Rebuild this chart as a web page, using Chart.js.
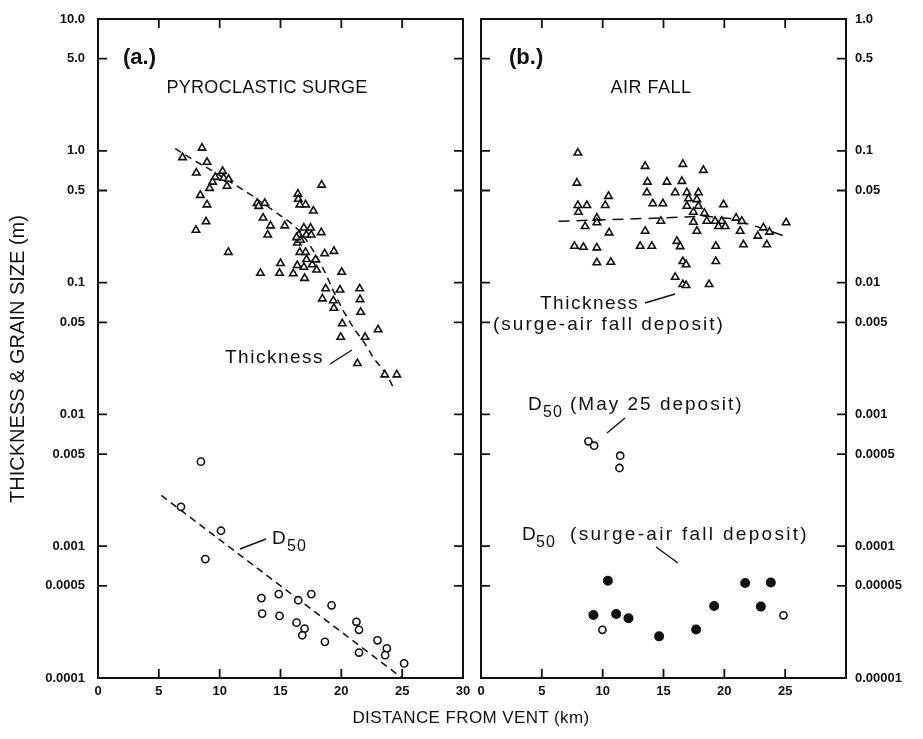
<!DOCTYPE html>
<html>
<head>
<meta charset="utf-8">
<script src="https://cdn.jsdelivr.net/npm/chart.js@4.4.1/dist/chart.umd.min.js"></script>
<style>
  html, body { margin: 0; padding: 0; background: #fff; }
  #wrap { position: relative; width: 923px; height: 739px; font-family: 'Liberation Sans', Arial, sans-serif; color: #111; }
  #leftChart { position: absolute; left: 0; top: 0; }
  #rightChart { position: absolute; left: 472px; top: 0; }
  #xTitle { position: absolute; left: 0; width: 942px; top: 708px; text-align: center; font-size: 17px; letter-spacing: 0.4px; }
</style>
</head>
<body>
<div id="wrap">
  <canvas id="leftChart" width="472" height="739" style="width:472px;height:739px"></canvas>
  <canvas id="rightChart" width="451" height="739" style="width:451px;height:739px"></canvas>
  <div id="xTitle">DISTANCE FROM VENT (km)</div>
</div>
<script>
// ---- (a.) pyroclastic surge ----
const surgeThickKm = [8.55, 6.95, 8.96, 8.08, 10.24, 9.64, 10.33, 10.74, 9.42, 10.6, 9.17, 8.41, 8.96, 8.88, 8.05, 10.71,
  18.38, 16.43, 16.46, 16.59, 17.06, 17.7, 13.08, 13.21, 13.71, 13.57, 14.18, 13.95, 15.35, 16.92, 17.47, 16.51, 17.12,
  17.53, 18.35, 16.38, 16.65, 16.32, 16.59, 17.06, 17.14, 18.63, 19.39, 15.0, 16.38, 16.92, 17.61, 17.88, 17.97, 13.35,
  14.92, 16.05, 16.98, 20.03, 18.71, 19.89, 21.51, 18.44, 19.34, 19.39, 21.54, 21.59, 20.08, 19.95, 21.95, 23.02, 21.32,
  23.57, 24.56];
const surgeThickM = [1.05, 0.89, 0.82, 0.68, 0.70, 0.63, 0.62, 0.61, 0.58, 0.54, 0.52, 0.46, 0.39, 0.29, 0.25, 0.17,
  0.55, 0.47, 0.43, 0.39, 0.39, 0.35, 0.40, 0.38, 0.40, 0.31, 0.27, 0.23, 0.27, 0.26, 0.26, 0.23, 0.23,
  0.23, 0.24, 0.20, 0.21, 0.22, 0.17, 0.17, 0.15, 0.166, 0.173, 0.14, 0.135, 0.131, 0.137, 0.149, 0.125, 0.118,
  0.118, 0.117, 0.108, 0.120, 0.090, 0.088, 0.090, 0.0755, 0.073, 0.064, 0.0745, 0.0597, 0.0488, 0.0386, 0.0386, 0.044, 0.0244,
  0.020, 0.020];
const surgeD50Km = [8.46, 6.82, 10.11, 8.82, 13.43, 14.86, 16.46, 17.53, 19.2, 13.49, 14.92, 16.32, 16.98, 16.79, 18.65,
  21.24, 21.45, 21.45, 22.97, 23.74, 23.6, 25.16];
const surgeD50M = [0.00438, 0.00199, 0.00131, 0.000798, 0.000404, 0.000433, 0.000389, 0.000433, 0.000356, 0.000308,
  0.000296, 0.000263, 0.000237, 0.000211, 0.000188, 0.000267, 0.000232, 0.000156, 0.000193, 0.000168, 0.000149, 0.000129];
const surgeThickFitKm = [6.35, 7.85, 9.23, 11.43, 12.53, 14.59, 15.82, 16.65, 17.33, 18.02, 18.71, 19.39, 20.22, 21.04, 21.86, 22.69, 23.79, 24.23];
const surgeThickFitM = [1.04, 0.85, 0.72, 0.54, 0.466, 0.343, 0.285, 0.242, 0.198, 0.156, 0.117, 0.0847, 0.0597, 0.0447, 0.0353, 0.0264, 0.0197, 0.0163];
const surgeD50FitKm = [5.2, 25.0];
const surgeD50FitM = [0.00243, 0.0001];

// ---- (b.) air fall (right axis units) ----
const airThickKm = [7.96, 7.88, 7.96, 8.70, 8.01, 10.48, 10.21, 9.52, 9.52, 8.56, 10.53, 7.68, 8.42, 9.52, 9.52, 10.67,
  13.49, 13.68, 15.28, 13.63, 14.12, 14.95, 14.78, 13.49, 13.08, 14.04, 16.59, 18.28, 16.51, 15.96, 16.92, 17.87, 17.05,
  17.74, 16.92, 17.87, 17.46, 19.93, 18.36, 17.46, 18.56, 19.24, 19.79, 19.52, 20.07, 17.74, 20.97, 21.44, 21.30, 23.21,
  23.71, 22.75, 25.08, 16.10, 16.37, 19.30, 21.57, 23.49, 16.59, 16.86, 19.30, 15.96, 16.59, 16.86, 18.75];
const airThickM = [0.0964, 0.057, 0.0386, 0.0386, 0.0343, 0.0452, 0.0386, 0.0309, 0.0285, 0.0267, 0.0239, 0.0189, 0.0186, 0.0184, 0.0142, 0.0143,
  0.0764, 0.058, 0.058, 0.0482, 0.0398, 0.0398, 0.0293, 0.0246, 0.0189, 0.0189, 0.0791, 0.0712, 0.0588, 0.0482, 0.0482, 0.0482, 0.0434,
  0.0427, 0.0381, 0.0381, 0.0343, 0.0391, 0.0337, 0.0288, 0.0293, 0.0293, 0.0293, 0.0267, 0.0267, 0.0246, 0.0309, 0.0292, 0.0246, 0.0261,
  0.0242, 0.0226, 0.0285, 0.0206, 0.0188, 0.0189, 0.0194, 0.0194, 0.0145, 0.0137, 0.0145, 0.0110, 0.00969, 0.00952, 0.00969];
const airThickFitKm = [6.37, 14.72, 18.28, 20.48, 21.85, 23.21, 25.13];
const airThickFitM = [0.0292, 0.0309, 0.0320, 0.0306, 0.0280, 0.0257, 0.0222];
const may25Km = [8.83, 9.30, 11.44, 11.38];
const may25M = [0.000625, 0.000579, 0.000486, 0.000392];
const airD50FilledKm = [10.43, 9.24, 11.11, 12.12, 14.64, 17.68, 19.16, 21.71, 23.82, 23.0];
const airD50FilledM = [0.0000546, 0.0000301, 0.0000306, 0.0000284, 0.0000207, 0.0000233, 0.0000352, 0.0000525, 0.000053, 0.0000348];
const airD50OpenKm = [9.98, 24.86];
const airD50OpenM = [0.0000232, 0.0000299];

// ---- axes ----
const xTicksLeft = [0, 5, 10, 15, 20, 25, 30];
const xTicksRight = [0, 5, 10, 15, 20, 25];
const xFrameTicks = [5, 10, 15, 20, 25];
const yTicksLeft = [10, 5, 1, 0.5, 0.1, 0.05, 0.01, 0.005, 0.001, 0.0005, 0.0001];
const yLabelsLeft = ['10.0', '5.0', '1.0', '0.5', '0.1', '0.05', '0.01', '0.005', '0.001', '0.0005', '0.0001'];
const yTicksRight = [1, 0.5, 0.1, 0.05, 0.01, 0.005, 0.001, 0.0005, 0.0001, 0.00005, 0.00001];
const yLabelsRight = ['1.0', '0.5', '0.1', '0.05', '0.01', '0.005', '0.001', '0.0005', '0.0001', '0.00005', '0.00001'];

const INK = '#111';
const FONT = "'Liberation Sans', Arial, sans-serif";
const pts = (xs, ys) => xs.map((x, i) => ({ x: x, y: ys[i] }));
const labelFor = (ticks, labels) => v => {
  const i = ticks.findIndex(t => Math.abs(t - v) / t < 1e-6);
  return i < 0 ? '' : labels[i];
};

function markers(data, style, fill, radius) {
  return {
    data: data, pointStyle: style, pointRadius: radius, pointBorderWidth: 1.6,
    pointBorderColor: INK, pointBackgroundColor: fill, showLine: false
  };
}
function fitLine(data, dash) {
  return {
    data: data, showLine: true, pointRadius: 0, borderColor: INK, borderWidth: 1.5,
    borderDash: dash, fill: false, tension: 0
  };
}

// frame, inward ticks and notes
function framePlugin(cfg) {
  return {
    id: 'frame',
    afterDraw(chart) {
      const { ctx, chartArea: a, scales: { x, y } } = chart;
      const T = 9;
      ctx.save();
      ctx.strokeStyle = INK;
      ctx.lineWidth = 2;
      ctx.strokeRect(a.left, a.top, a.right - a.left, a.bottom - a.top);
      ctx.lineWidth = 1.8;
      ctx.beginPath();
      xFrameTicks.forEach(v => {
        const px = x.getPixelForValue(v);
        ctx.moveTo(px, a.top); ctx.lineTo(px, a.top + T);
        ctx.moveTo(px, a.bottom); ctx.lineTo(px, a.bottom - T);
      });
      cfg.yTicks.slice(1, -1).forEach(v => {
        const py = y.getPixelForValue(v);
        ctx.moveTo(a.left, py); ctx.lineTo(a.left + T, py);
        ctx.moveTo(a.right, py); ctx.lineTo(a.right - T, py);
      });
      ctx.stroke();

      ctx.fillStyle = INK;
      ctx.textBaseline = 'middle';
      cfg.notes.forEach(n => {
        ctx.font = n.font;
        ctx.letterSpacing = n.sp || '0px';
        ctx.textAlign = n.align || 'left';
        ctx.fillText(n.text, a.left + n.dx, a.top + n.dy);
      });
      ctx.lineWidth = 1.4;
      ctx.beginPath();
      cfg.leaders.forEach(l => {
        ctx.moveTo(a.left + l[0], a.top + l[1]);
        ctx.lineTo(a.left + l[2], a.top + l[3]);
      });
      ctx.stroke();

      if (cfg.yTitle) {
        ctx.translate(18, a.top + 340);
        ctx.rotate(-Math.PI / 2);
        ctx.font = '20px ' + FONT;
        ctx.letterSpacing = '0px';
        ctx.textAlign = 'center';
        ctx.fillText(cfg.yTitle, 0, 0);
      }
      ctx.restore();
    }
  };
}

function makeOptions(side) {
  const left = side === 'left';
  const yTicks = left ? yTicksLeft : yTicksRight;
  const yLabels = left ? yLabelsLeft : yLabelsRight;
  const xTicks = left ? xTicksLeft : xTicksRight;
  return {
    responsive: false,
    animation: false,
    events: [],
    layout: { padding: left ? { left: 0, right: 9, top: 19, bottom: 0 } : { left: 9, right: 0, top: 19, bottom: 0 } },
    plugins: { legend: { display: false }, tooltip: { enabled: false } },
    scales: {
      x: {
        type: 'linear', min: 0, max: 30,
        afterBuildTicks: s => { s.ticks = xTicks.map(v => ({ value: v })); },
        afterFit: s => { s.height = 61; s.paddingLeft = 0; s.paddingRight = 0; },
        ticks: { autoSkip: false, maxRotation: 0, padding: 6, color: INK, font: { family: FONT, size: 13, weight: 'bold' } },
        grid: { display: false, drawTicks: false },
        border: { display: false }
      },
      y: {
        type: 'logarithmic', position: left ? 'left' : 'right',
        min: left ? 0.0001 : 0.00001, max: left ? 10 : 1,
        afterBuildTicks: s => { s.ticks = yTicks.map(v => ({ value: v })); },
        afterFit: s => { s.width = left ? 98 : 77; s.paddingTop = 0; s.paddingBottom = 0; },
        ticks: {
          autoSkip: false, padding: left ? 13 : 9, color: INK,
          font: { family: FONT, size: 13, weight: 'bold' },
          callback: labelFor(yTicks, yLabels)
        },
        grid: { display: false, drawTicks: false },
        border: { display: false }
      }
    }
  };
}

const noteFont = '19px ' + FONT;
const subFont = '16px ' + FONT;

new Chart(document.getElementById('leftChart'), {
  type: 'scatter',
  data: {
    datasets: [
      markers(pts(surgeThickKm, surgeThickM), 'triangle', '#fff', 4.3),
      markers(pts(surgeD50Km, surgeD50M), 'circle', '#fff', 3.6),
      fitLine(pts(surgeThickFitKm, surgeThickFitM), [7, 5]),
      fitLine(pts(surgeD50FitKm, surgeD50FitM), [7, 5])
    ]
  },
  options: makeOptions('left'),
  plugins: [framePlugin({
    yTicks: yTicksLeft,
    yTitle: 'THICKNESS & GRAIN SIZE (m)',
    notes: [
      { text: '(a.)', dx: 25, dy: 39, font: 'bold 22px ' + FONT },
      { text: 'PYROCLASTIC SURGE', dx: 169, dy: 69, font: '18px ' + FONT, align: 'center', sp: '0.3px' },
      { text: 'Thickness', dx: 127, dy: 339, font: noteFont, sp: '1.5px' },
      { text: 'D', dx: 174, dy: 520, font: noteFont },
      { text: '50', dx: 189, dy: 528, font: subFont, sp: '1px' }
    ],
    leaders: [[232, 345, 254, 331], [142, 530, 168, 520]]
  })]
});

new Chart(document.getElementById('rightChart'), {
  type: 'scatter',
  data: {
    datasets: [
      markers(pts(airThickKm, airThickM), 'triangle', '#fff', 4.3),
      markers(pts(may25Km, may25M), 'circle', '#fff', 3.6),
      markers(pts(airD50FilledKm, airD50FilledM), 'circle', INK, 4.2),
      markers(pts(airD50OpenKm, airD50OpenM), 'circle', '#fff', 3.6),
      fitLine(pts(airThickFitKm, airThickFitM), [11, 7])
    ]
  },
  options: makeOptions('right'),
  plugins: [framePlugin({
    yTicks: yTicksRight,
    notes: [
      { text: '(b.)', dx: 28, dy: 39, font: 'bold 22px ' + FONT },
      { text: 'AIR FALL', dx: 170, dy: 69, font: '18px ' + FONT, align: 'center', sp: '0.5px' },
      { text: 'Thickness', dx: 59, dy: 285, font: noteFont, sp: '1.5px' },
      { text: '(surge-air fall deposit)', dx: 12, dy: 306, font: noteFont, sp: '2px' },
      { text: 'D', dx: 47, dy: 386, font: noteFont },
      { text: '50', dx: 62, dy: 394, font: subFont, sp: '1px' },
      { text: '(May 25 deposit)', dx: 89, dy: 386, font: noteFont, sp: '2px' },
      { text: 'D', dx: 41, dy: 516, font: noteFont },
      { text: '50', dx: 55, dy: 524, font: subFont, sp: '1px' },
      { text: '(surge-air fall deposit)', dx: 89, dy: 516, font: noteFont, sp: '2.3px' }
    ],
    leaders: [[164, 284, 194, 275], [144, 399, 126, 414], [175, 528, 197, 544]]
  })]
});
</script>
</body>
</html>
